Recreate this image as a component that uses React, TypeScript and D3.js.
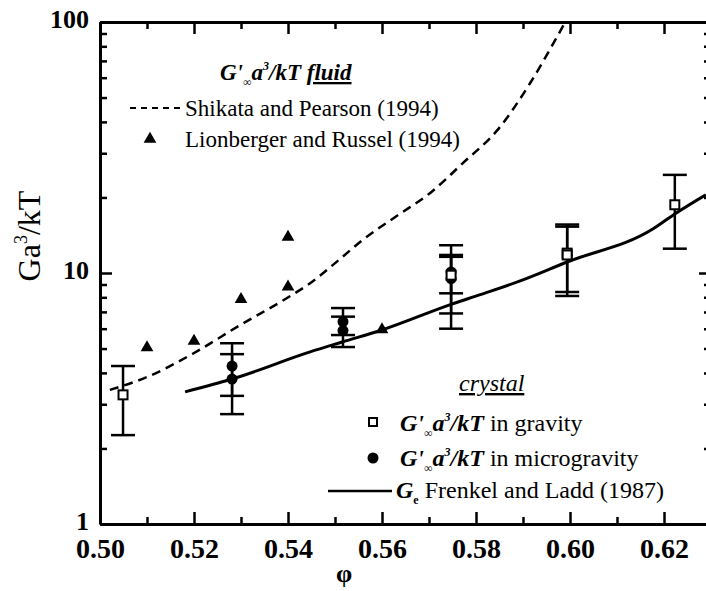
import * as d3 from 'd3';
import { useEffect, useRef } from 'react';

const W = 706;
const H = 591;
const FONT = "'Liberation Serif', 'Times New Roman', Times, serif";

// axis ticks
const X_MAJOR = [0.5, 0.52, 0.54, 0.56, 0.58, 0.6, 0.62];
const X_MINOR = [0.51, 0.53, 0.55, 0.57, 0.59, 0.61, 0.63];
const Y_MAJOR = [1, 10, 100];
const Y_MINOR = [2, 3, 4, 5, 6, 7, 8, 9, 20, 30, 40, 50, 60, 70, 80, 90];

// Shikata and Pearson (1994), dashed
const SP_PHI = [0.5021, 0.51, 0.52, 0.5298, 0.5398, 0.5447, 0.5504, 0.556, 0.5632, 0.5702, 0.5772, 0.5845, 0.5915, 0.5972, 0.599];
const SP_G = [3.42, 3.85, 4.8, 6.2, 7.95, 9.1, 11.1, 13.6, 16.9, 20.8, 27.4, 37, 57, 87, 100];

// Lionberger and Russel (1994), triangles
const LR_PHI = [0.51, 0.52, 0.53, 0.54, 0.54, 0.56];
const LR_G = [5.05, 5.35, 7.85, 8.8, 13.9, 5.95];

// Frenkel and Ladd (1987), solid
const FL_PHI = [0.5181, 0.5281, 0.5447, 0.5517, 0.56, 0.5747, 0.5809, 0.5894, 0.5994, 0.6177, 0.6223, 0.6289];
const FL_G = [3.36, 3.78, 4.85, 5.32, 5.93, 7.5, 8.2, 9.3, 11.06, 15.0, 17.2, 20.5];

// G'a3/kT in gravity (open squares)
const GRAV_PHI = [0.5049, 0.5994, 0.5994, 0.5747, 0.6223];
const GRAV_G = [3.27, 12.0, 11.8, 9.8, 18.7];
const GRAV_LO = [2.26, 8.1, 8.4, 6.9, 12.5];
const GRAV_HI = [4.26, 15.6, 15.3, 11.8, 24.6];

// G'a3/kT in microgravity (filled circles)
const MICRO_PHI = [0.5281, 0.5281, 0.5517, 0.5517, 0.5747, 0.5747];
const MICRO_G = [4.26, 3.78, 6.4, 5.9, 10.1, 9.5];
const MICRO_LO = [3.24, 2.74, 5.07, 5.66, 8.3, 6.0];
const MICRO_HI = [5.25, 4.75, 7.25, 6.7, 12.9, 11.6];

const x = d3.scaleLinear().domain([0.5, 0.63]).range([100, 711]);
const y = d3.scaleLog().domain([1, 100]).range([524, 22]);

const line = d3
    .line<[number, number]>()
    .x((d) => x(d[0]))
    .y((d) => y(d[1]))
    .curve(d3.curveMonotoneX);

const tri = d3.symbol(d3.symbolTriangle, 70);

const LEG = 23;
const LEG2 = 24;

function LegendLabel({ xPos, yPos, tail }: { xPos: number; yPos: number; tail: string }) {
    return (
        <text x={xPos} y={yPos} fontFamily={FONT} fontSize={LEG2}>
            <tspan fontStyle="italic" fontWeight="bold">G'</tspan>
            <tspan fontStyle="italic" fontWeight="bold" fontSize={12} dy={6}>∞</tspan>
            <tspan fontStyle="italic" fontWeight="bold" dy={-6}>a</tspan>
            <tspan fontStyle="italic" fontWeight="bold" fontSize={12} dy={-10}>3</tspan>
            <tspan fontStyle="italic" fontWeight="bold" dy={10}>/kT</tspan>
            <tspan>{tail}</tspan>
        </text>
    );
}

export default function App() {
    const axRef = useRef<SVGGElement>(null);

    useEffect(() => {
        if (!axRef.current) {
            return;
        }
        const g = d3.select(axRef.current);
        g.selectAll('*').remove();

        const style = (sel: any, domain: boolean, size: number) => {
            sel.attr('font-family', FONT);
            sel.select('.domain').attr('stroke-width', domain ? 3 : 0).attr('stroke', '#000');
            sel.selectAll('.tick line').attr('stroke-width', 2.5).attr('stroke', '#000');
            sel.selectAll('text')
                .attr('font-family', FONT)
                .attr('font-size', size)
                .attr('font-weight', 'bold')
                .attr('fill', '#000');
        };

        // minor ticks first
        g.append('g')
            .attr('transform', 'translate(0,524)')
            .call(d3.axisBottom(x).tickValues(X_MINOR).tickSize(-7).tickSizeOuter(0).tickFormat(() => ''))
            .call((s) => style(s, false, 28));
        g.append('g')
            .attr('transform', 'translate(0,22)')
            .call(d3.axisTop(x).tickValues(X_MINOR).tickSize(-7).tickSizeOuter(0).tickFormat(() => ''))
            .call((s) => style(s, false, 28));
        g.append('g')
            .attr('transform', 'translate(100,0)')
            .call(d3.axisLeft(y).tickValues(Y_MINOR).tickSize(-7).tickSizeOuter(0).tickFormat(() => ''))
            .call((s) => style(s, false, 28));
        g.append('g')
            .attr('transform', 'translate(711,0)')
            .call(d3.axisRight(y).tickValues(Y_MINOR).tickSize(-7).tickSizeOuter(0).tickFormat(() => ''))
            .call((s) => style(s, false, 28));

        // major ticks + frame
        g.append('g')
            .attr('transform', 'translate(0,524)')
            .call(
                d3
                    .axisBottom(x)
                    .tickValues(X_MAJOR)
                    .tickSize(-12)
                    .tickSizeOuter(0)
                    .tickPadding(14)
                    .tickFormat(d3.format('.2f')),
            )
            .call((s) => style(s, true, 28));
        g.append('g')
            .attr('transform', 'translate(0,22)')
            .call(d3.axisTop(x).tickValues(X_MAJOR).tickSize(-12).tickSizeOuter(0).tickFormat(() => ''))
            .call((s) => style(s, true, 28));
        g.append('g')
            .attr('transform', 'translate(100,0)')
            .call(
                d3
                    .axisLeft(y)
                    .tickValues(Y_MAJOR)
                    .tickSize(-12)
                    .tickSizeOuter(0)
                    .tickPadding(11)
                    .tickFormat(d3.format('d')),
            )
            .call((s) => style(s, true, 26))
            .call((s) => s.selectAll('text').attr('dy', '0.22em'));
        g.append('g')
            .attr('transform', 'translate(711,0)')
            .call(d3.axisRight(y).tickValues(Y_MAJOR).tickSize(-12).tickSizeOuter(0).tickFormat(() => ''))
            .call((s) => style(s, true, 28));
    }, []);

    const spData = SP_PHI.map((p, i) => [p, SP_G[i]] as [number, number]);
    const flData = FL_PHI.map((p, i) => [p, FL_G[i]] as [number, number]);

    const errBar = (phi: number, lo: number, hi: number, key: string) => (
        <g key={key} stroke="#000" strokeWidth={2.5}>
            <line x1={x(phi)} x2={x(phi)} y1={y(lo)} y2={y(hi)} />
            <line x1={x(phi) - 12} x2={x(phi) + 12} y1={y(lo)} y2={y(lo)} />
            <line x1={x(phi) - 12} x2={x(phi) + 12} y1={y(hi)} y2={y(hi)} />
        </g>
    );

    return (
        <div style={{ position: 'absolute', left: 0, top: 0 }}>
            <svg width={W} height={H} style={{ display: 'block', background: '#fff' }}>
                <defs>
                    <clipPath id="plot">
                        <rect x={100} y={22} width={611} height={502} />
                    </clipPath>
                </defs>
                <g clipPath="url(#plot)">
                    <path d={line(spData) ?? ''} fill="none" stroke="#000" strokeWidth={2.5} strokeDasharray="9,6" />
                    <path d={line(flData) ?? ''} fill="none" stroke="#000" strokeWidth={3} />
                </g>

                {GRAV_PHI.map((p, i) => errBar(p, GRAV_LO[i], GRAV_HI[i], `ge${i}`))}
                {MICRO_PHI.map((p, i) => errBar(p, MICRO_LO[i], MICRO_HI[i], `me${i}`))}

                {LR_PHI.map((p, i) => (
                    <path key={`t${i}`} d={tri() ?? ''} transform={`translate(${x(p)},${y(LR_G[i])})`} fill="#000" />
                ))}
                {MICRO_PHI.map((p, i) => (
                    <circle key={`c${i}`} cx={x(p)} cy={y(MICRO_G[i])} r={5.5} fill="#000" />
                ))}
                {GRAV_PHI.map((p, i) => (
                    <rect
                        key={`s${i}`}
                        x={x(p) - 4.5}
                        y={y(GRAV_G[i]) - 4.5}
                        width={9}
                        height={9}
                        fill="#fff"
                        stroke="#000"
                        strokeWidth={2}
                    />
                ))}

                <g ref={axRef} />

                {/* fluid legend */}
                <text x={220} y={80} fontFamily={FONT} fontSize={LEG} fontStyle="italic" fontWeight="bold">
                    <tspan>G'</tspan>
                    <tspan fontSize={12} dy={6}>∞</tspan>
                    <tspan dy={-6}>a</tspan>
                    <tspan fontSize={12} dy={-10}>3</tspan>
                    <tspan dy={10}>/kT </tspan>
                    <tspan textDecoration="underline">fluid</tspan>
                </text>
                <line x1={130} x2={182} y1={108} y2={108} stroke="#000" strokeWidth={2} strokeDasharray="6,5" />
                <text x={185} y={116} fontFamily={FONT} fontSize={LEG}>
                    Shikata and Pearson (1994)
                </text>
                <path d={tri() ?? ''} transform="translate(150,139)" fill="#000" />
                <text x={185} y={147} fontFamily={FONT} fontSize={LEG}>
                    Lionberger and Russel (1994)
                </text>

                {/* crystal legend */}
                <text x={459} y={391} fontFamily={FONT} fontSize={LEG2} fontStyle="italic" textDecoration="underline">
                    crystal
                </text>
                <rect x={369} y={418} width={8} height={8} fill="#fff" stroke="#000" strokeWidth={2} />
                <LegendLabel xPos={400} yPos={431} tail=" in gravity" />
                <circle cx={373} cy={458} r={5.5} fill="#000" />
                <LegendLabel xPos={400} yPos={466} tail=" in microgravity" />
                <line x1={328} x2={392} y1={491} y2={491} stroke="#000" strokeWidth={2.5} />
                <text x={396} y={498} fontFamily={FONT} fontSize={LEG2}>
                    <tspan fontStyle="italic" fontWeight="bold">G</tspan>
                    <tspan fontSize={12} dy={6} fontWeight="bold">e</tspan>
                    <tspan dy={-6}> Frenkel and Ladd (1987)</tspan>
                </text>

                {/* axis titles */}
                <text
                    transform="translate(40,236) rotate(-90)"
                    textAnchor="middle"
                    fontFamily={FONT}
                    fontSize={32}
                >
                    Ga<tspan fontSize={18} dy={-13}>3</tspan>
                    <tspan dy={13}>/kT</tspan>
                </text>
                <text x={344} y={582} textAnchor="middle" fontFamily={FONT} fontSize={26} fontWeight="bold">
                    φ
                </text>
            </svg>
        </div>
    );
}
